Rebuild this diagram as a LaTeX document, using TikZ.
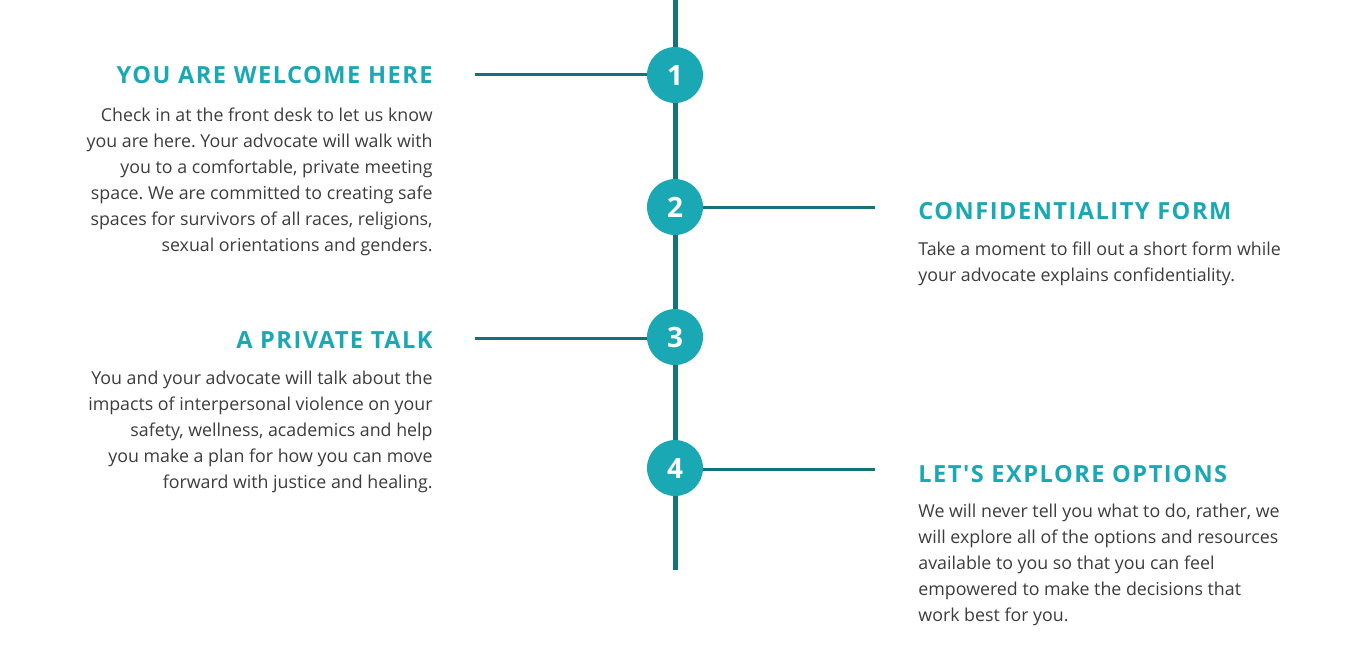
\documentclass[tikz,border=0pt]{standalone}
\usepackage{fontspec}
\setmainfont{Open Sans}[Ligatures=TeXOff]
\usetikzlibrary{positioning}

\definecolor{tealdot}{RGB}{27,168,181}
\definecolor{tealline}{RGB}{21,113,122}
\definecolor{bodygray}{RGB}{60,60,60}

\tikzset{
  stepdot/.style={circle,fill=tealdot,minimum size=28pt,inner sep=0pt,text=white,font=\fontsize{14}{16}\selectfont\bfseries},
  spine/.style={draw=tealline,line width=2.5pt},
  link/.style={draw=tealline,line width=1.5pt},
  heading/.style={inner sep=0pt,text=tealdot,font=\fontsize{11.8}{14}\selectfont\bfseries\addfontfeatures{LetterSpace=6.3}},
  bodytext/.style={inner sep=0pt,text=bodygray,font=\fontsize{8.9}{13}\selectfont\frenchspacing}
}

\begin{document}
\begin{tikzpicture}[x=0.5pt,y=-0.5pt]
        \useasboundingbox (0,0) rectangle (1350,650);
        % timeline
        \coordinate (top) at (675,0);
        \coordinate (bot) at (675,570);
        \draw[spine] (top) -- (bot);
        % steps
        \foreach \n/\y in {1/75,2/207,3/337,4/468} {
            \node[stepdot] (s\n) at (675,\y) {\n};
        }
        % connectors
        \coordinate (c1) at (475,74);
        \coordinate (c2) at (875,207);
        \coordinate (c3) at (475,338);
        \coordinate (c4) at (875,469);
        \draw[link] (c1) -- (s1.west |- c1);
        \draw[link] (s2.east |- c2) -- (c2);
        \draw[link] (c3) -- (s3.west |- c3);
        \draw[link] (s4.east |- c4) -- (c4);
        % left side
        \node[heading,anchor=base east] (h1) at (433,83) {YOU ARE WELCOME HERE};
        \node[bodytext,anchor=north east,align=right] (t1) at (433,107) {Check in at the front desk to let us know\\you are here. Your advocate will walk with\\you to a comfortable, private meeting\\space. We are committed to creating safe\\spaces for survivors of all races, religions,\\sexual orientations and genders.};
        \node[heading,anchor=base east] (h3) at (433,348) {A PRIVATE TALK};
        \node[bodytext,anchor=north east,align=right] (t3) at (433,371) {You and your advocate will talk about the\\impacts of interpersonal violence on your\\safety, wellness, academics and help\\you make a plan for how you can move\\forward with justice and healing.};
        % right side
        \node[heading,anchor=base west] (h2) at (918,219) {CONFIDENTIALITY FORM};
        \node[bodytext,anchor=north west,align=left] (t2) at (918,241) {Take a moment to fill out a short form while\\your advocate explains confidentiality.};
        \node[heading,anchor=base west] (h4) at (918,482) {LET'S EXPLORE OPTIONS};
        \node[bodytext,anchor=north west,align=left] (t4) at (918,504) {We will never tell you what to do, rather, we\\will explore all of the options and resources\\available to you so that you can feel\\empowered to make the decisions that\\work best for you.};
\end{tikzpicture}
\end{document}
